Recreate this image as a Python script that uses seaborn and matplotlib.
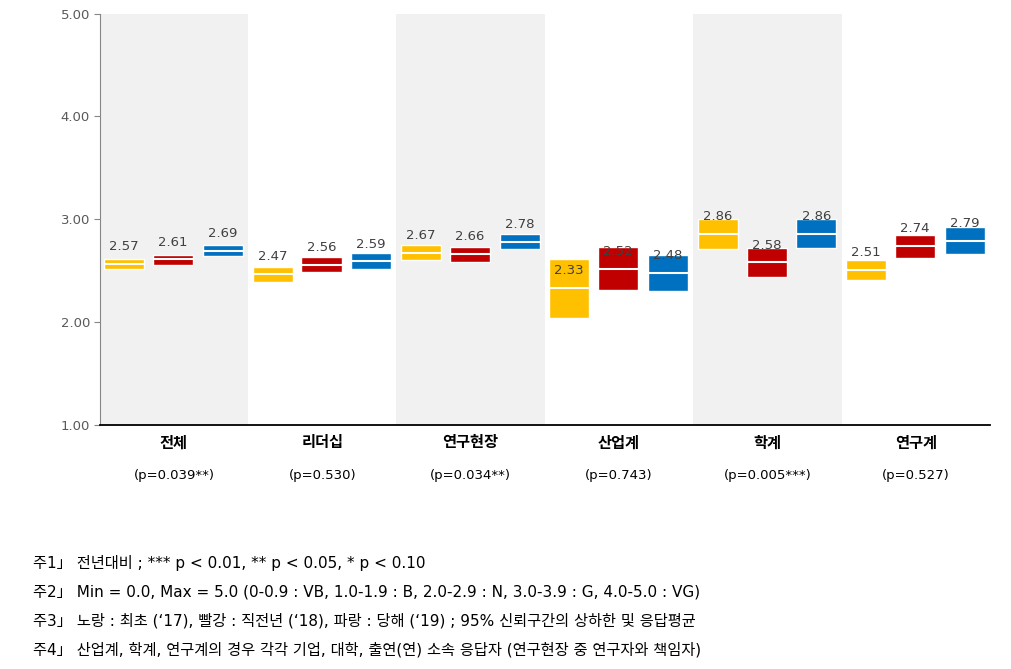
import numpy as np
import pandas as pd
import matplotlib
matplotlib.use("Agg")
import matplotlib.pyplot as plt
import matplotlib.transforms as mtransforms
import seaborn as sns

# ---- data ----
CATEGORIES = ["전체", "리더십", "연구현장", "산업계", "학계", "연구계"]
P_LABELS   = ["(p=0.039**)", "(p=0.530)", "(p=0.034**)", "(p=0.743)",
              "(p=0.005***)", "(p=0.527)"]
YEARS      = ["'17", "'18", "'19"]

mean_17 = [2.57, 2.47, 2.67, 2.33, 2.86, 2.51]
low_17  = [2.52, 2.39, 2.60, 2.04, 2.71, 2.41]
high_17 = [2.61, 2.54, 2.75, 2.61, 3.00, 2.60]

mean_18 = [2.61, 2.56, 2.66, 2.52, 2.58, 2.74]
low_18  = [2.56, 2.49, 2.58, 2.31, 2.44, 2.62]
high_18 = [2.65, 2.63, 2.73, 2.73, 2.72, 2.85]

mean_19 = [2.69, 2.59, 2.78, 2.48, 2.86, 2.79]
low_19  = [2.64, 2.52, 2.71, 2.30, 2.72, 2.66]
high_19 = [2.75, 2.67, 2.86, 2.65, 3.00, 2.92]

NOTES = [
    "주1」 전년대비 ; *** p < 0.01, ** p < 0.05, * p < 0.10",
    "주2」 Min = 0.0, Max = 5.0 (0-0.9 : VB, 1.0-1.9 : B, 2.0-2.9 : N, 3.0-3.9 : G, 4.0-5.0 : VG)",
    "주3」 노랑 : 최초 (\u201817), 빨강 : 직전년 (\u201818), 파랑 : 당해 (\u201819) ; 95% 신뢰구간의 상하한 및 응답평균",
    "주4」 산업계, 학계, 연구계의 경우 각각 기업, 대학, 출연(연) 소속 응답자 (연구현장 중 연구자와 책임자)",
]

df = pd.DataFrame({
    "category": CATEGORIES * 3,
    "year": np.repeat(YEARS, len(CATEGORIES)),
    "mean": mean_17 + mean_18 + mean_19,
    "low": low_17 + low_18 + low_19,
    "high": high_17 + high_18 + high_19,
})

COLORS  = {"'17": "#FFC000", "'18": "#C00000", "'19": "#0070C0"}
OFFSETS = {"'17": 0.165, "'18": 0.495, "'19": 0.83}
WIDTH   = 0.27

sns.set_style("white")
plt.rcParams["font.family"] = ["DejaVu Sans", "Noto Sans CJK KR"]

fig = plt.figure(figsize=(10.11, 6.69), dpi=100)
ax = fig.add_axes([0.0986, 0.3647, 0.8806, 0.6151])

# alternating grey bands
for i in range(0, len(CATEGORIES), 2):
    ax.axvspan(i, i + 1, ymin=0, ymax=1, color="#F1F1F1", lw=0, zorder=0)

cat_idx = {c: i for i, c in enumerate(CATEGORIES)}
for _, r in df.iterrows():
    xc = cat_idx[r["category"]] + OFFSETS[r["year"]]
    ax.bar(xc, r["high"] - r["low"], bottom=r["low"], width=WIDTH,
           color=COLORS[r["year"]], edgecolor="white", linewidth=1, zorder=2)
    ax.hlines(r["mean"], xc - WIDTH / 2, xc + WIDTH / 2, colors="white",
              linewidth=1.5, zorder=3)
    ax.annotate(f"{r['mean']:.2f}", (xc, r["mean"]), xytext=(0, 12.5),
                textcoords="offset points", ha="center", va="center",
                fontsize=9.5, color="#404040", zorder=4)

ax.set_xlim(0, len(CATEGORIES))
ax.set_ylim(1, 5)
ax.set_yticks([1, 2, 3, 4, 5])
ax.set_yticklabels([f"{v:.2f}" for v in [1, 2, 3, 4, 5]])
ax.set_xticks([])
ax.tick_params(axis="y", length=4, color="#868686", labelcolor="#595959",
               labelsize=9.5, left=True, direction="out", pad=3)
sns.despine(ax=ax, top=True, right=True)
ax.spines["left"].set_color("#868686")
ax.spines["bottom"].set_color("black")
ax.spines["bottom"].set_linewidth(1.3)
ax.spines["bottom"].set_zorder(5)

# category labels under axis
trans = mtransforms.blended_transform_factory(ax.transData, fig.transFigure)
for i, (c, p) in enumerate(zip(CATEGORIES, P_LABELS)):
    ax.text(i + 0.5, 1 - 443 / 669, c, transform=trans, ha="center",
            va="center", fontsize=11, fontweight="bold", color="black")
    ax.text(i + 0.5, 1 - 476 / 669, p, transform=trans, ha="center",
            va="center", fontsize=9.5, color="black")

for k, note in enumerate(NOTES):
    fig.text(0.0326, 1 - (563 + 29 * k) / 669, note, ha="left", va="center",
             fontsize=11, color="black")

fig.savefig("out.png", dpi=100)
